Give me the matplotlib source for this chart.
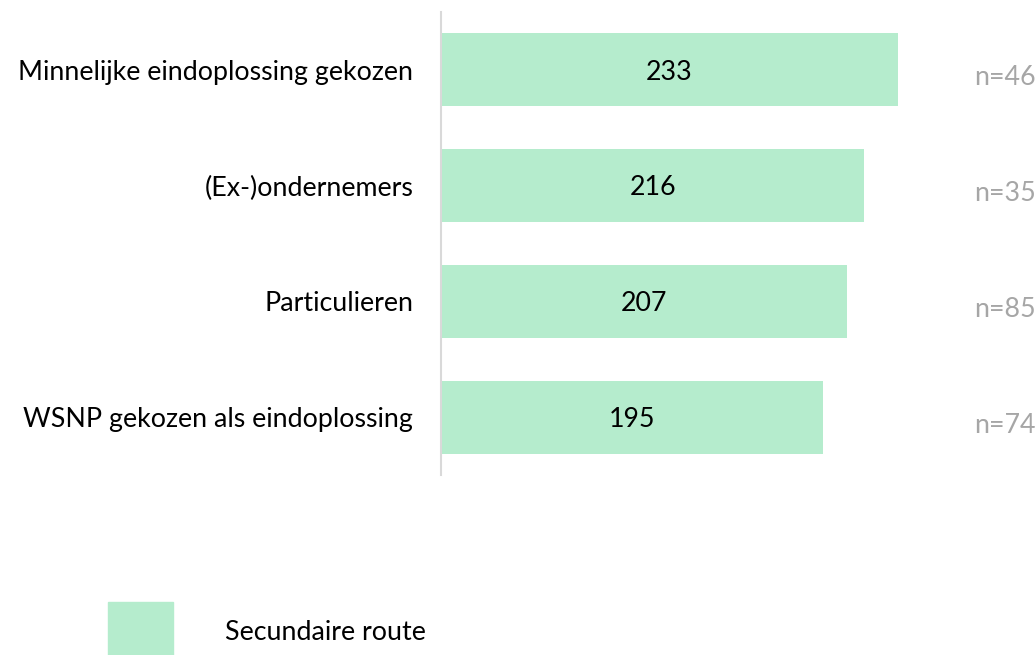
import matplotlib.pyplot as plt
from matplotlib.patches import Rectangle
from matplotlib.transforms import blended_transform_factory

plt.rcParams['font.family'] = ['Lato', 'DejaVu Sans']

categories = ['Minnelijke eindoplossing gekozen', '(Ex-)ondernemers',
              'Particulieren', 'WSNP gekozen als eindoplossing']
values = [233, 216, 207, 195]
n_labels = ['n=46', 'n=35', 'n=85', 'n=74']
series_name = 'Secundaire route'

bar_color = '#B5ECCD'
fs = 19.3

fig = plt.figure(figsize=(10.36, 6.55), dpi=100)
ax = fig.add_axes([441 / 1036, 180 / 655, 588 / 1036, 463 / 655])

y = list(range(len(categories)))
bars = ax.barh(y, values, height=0.63, color=bar_color)
ax.set_xlim(0, 300)
ax.set_ylim(3.5, -0.5)

for bar, v in zip(bars, values):
    ax.text(v / 2, bar.get_y() + bar.get_height() / 2 + 0.02, str(v),
            ha='center', va='center', fontsize=fs, color='black')

ax.set_yticks(y)
ax.set_yticklabels(categories, fontsize=fs)
ax.tick_params(axis='y', length=0, pad=20)
ax.set_xticks([])
for side in ['top', 'right', 'bottom']:
    ax.spines[side].set_visible(False)
ax.spines['left'].set_color('#D9D9D9')
ax.spines['left'].set_linewidth(1.5)

# n-counts at the right edge
trans = blended_transform_factory(fig.transFigure, ax.transData)
for yi, lab in zip(y, n_labels):
    ax.text(1.0, yi + 0.07, lab, transform=trans, ha='right', va='center',
            fontsize=fs, color='#A6A6A6', clip_on=False)

# legend
fig.add_artist(Rectangle((108 / 1036, 0), 65 / 1036, 53 / 655,
                         transform=fig.transFigure, color=bar_color))
fig.text(225 / 1036, 23 / 655, series_name, ha='left', va='center', fontsize=fs)

fig.savefig('out.png', dpi=100)
